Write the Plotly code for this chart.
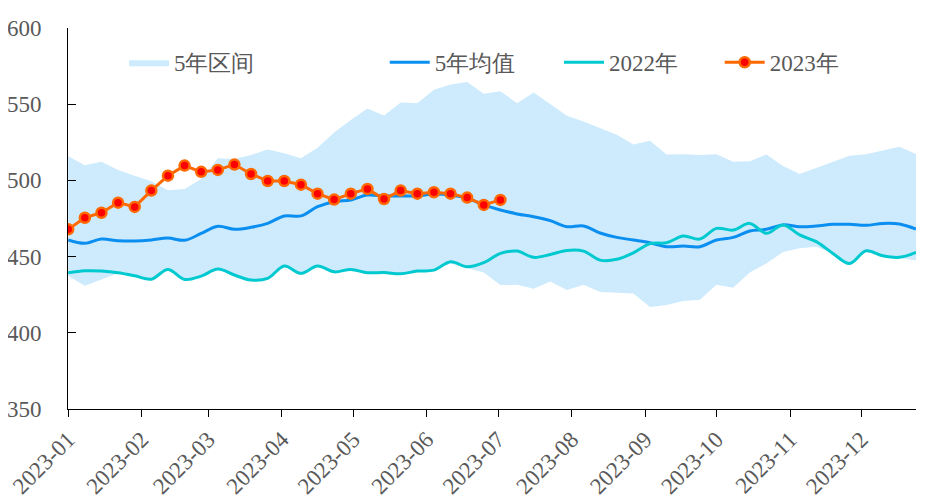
"""Weekly 2023 vs 2022 vs five-year range chart."""

import pandas as pd
import plotly.graph_objects as go

weeks = pd.date_range("2023-01-01", periods=52, freq="7D")

upper_5y = [
    515.8, 510.0, 512.3, 506.9, 503.0, 499.4, 493.6, 494.4, 501.0, 514.6,
    514.0, 516.7, 520.3, 517.8, 514.6, 521.4, 531.4, 539.7, 547.2, 542.6,
    551.1, 550.7, 559.4, 562.9, 564.5, 556.8, 558.5, 550.7, 557.7, 550.0,
    542.4, 538.6, 534.3, 529.9, 523.5, 526.0, 517.0, 517.2, 516.7, 517.2,
    512.3, 512.6, 517.0, 509.5, 504.2, 508.0, 511.9, 516.1, 517.2, 519.4,
    522.0, 517.4,
]
lower_5y = [
    437.2, 430.9, 435.0, 439.0, 437.0, 435.0, 441.2, 434.8, 437.0, 441.5,
    437.6, 434.4, 435.5, 443.5, 438.8, 443.5, 439.8, 441.3, 439.2, 439.4,
    438.5, 440.2, 440.8, 445.5, 442.5, 439.5, 431.3, 431.5, 428.9, 433.7,
    428.1, 431.5, 426.8, 426.5, 425.8, 417.0, 418.2, 420.8, 421.7, 431.5,
    429.6, 439.6, 445.5, 453.0, 455.4, 456.5, 452.0, 445.3, 453.0, 450.2,
    449.2, 447.5,
]
mean_5y = [
    460.9, 458.7, 461.5, 460.4, 460.2, 460.9, 462.2, 460.7, 465.2, 469.9,
    467.9, 469.2, 471.8, 476.7, 476.7, 482.8, 486.0, 487.2, 490.4, 489.8,
    489.8, 489.8, 491.1, 490.4, 488.3, 483.9, 480.6, 478.0, 476.2, 473.6,
    469.6, 470.1, 465.5, 462.6, 460.9, 459.1, 456.5, 456.9, 456.5, 460.9,
    462.6, 466.8, 467.9, 470.8, 469.6, 470.1, 471.2, 471.2, 470.5, 471.8,
    471.4, 468.1,
]
y2022 = [
    439.4, 440.7, 440.5, 439.4, 437.4, 435.2, 441.6, 435.0, 437.2, 441.8,
    437.9, 434.6, 435.7, 443.8, 439.0, 443.8, 440.0, 441.6, 439.4, 439.6,
    438.7, 440.5, 441.1, 446.6, 443.3, 446.0, 452.1, 453.6, 449.5, 451.4,
    454.0, 453.6, 447.7, 448.2, 452.5, 458.5, 459.1, 463.5, 461.5, 468.5,
    467.4, 471.8, 465.3, 470.8, 464.2, 459.8, 452.1, 445.5, 453.8, 450.5,
    449.5, 452.8,
]
y2023 = [
    467.9, 475.5, 478.8, 485.4, 482.6, 493.3, 503.1, 509.7, 505.6, 506.9,
    510.4, 504.2, 499.6, 499.6, 497.2, 491.3, 487.4, 491.3, 494.4, 487.8,
    493.3, 491.3, 492.2, 491.3, 488.7, 483.9, 487.2,
]

FONT = "Times New Roman, Liberation Serif, DejaVu Serif, serif"
GREY = "#595959"
LEG_Y = 0.910


def legend_box(x):
    return dict(
        orientation="h", x=x, y=LEG_Y, xanchor="left", yanchor="middle",
        font=dict(family=FONT, size=23, color=GREY),
        bgcolor="rgba(0,0,0,0)", itemwidth=40,
    )


fig = go.Figure()

# five-year band: invisible lower edge, then upper filled down to it
fig.add_trace(go.Scatter(
    x=weeks, y=lower_5y, mode="lines", line=dict(width=0),
    showlegend=False, hoverinfo="skip",
))
fig.add_trace(go.Scatter(
    x=weeks, y=upper_5y, mode="lines", line=dict(width=0),
    fill="tonexty", fillcolor="#cdebfd", name="5年区间",
))
fig.add_trace(go.Scatter(
    x=weeks, y=mean_5y, mode="lines", name="5年均值",
    line=dict(color="#0a8ef0", width=3, shape="spline"), legend="legend2",
))
fig.add_trace(go.Scatter(
    x=weeks, y=y2022, mode="lines", name="2022年",
    line=dict(color="#00c9cf", width=3, shape="spline"), legend="legend3",
))
fig.add_trace(go.Scatter(
    x=weeks[:len(y2023)], y=y2023, mode="lines+markers", name="2023年",
    line=dict(color="#ff6a00", width=3),
    marker=dict(color="#ff0000", size=10, line=dict(color="#ff6a00", width=2.5)),
    legend="legend4",
))

# page body adds an 8px offset, so margins are shifted to compensate
fig.update_layout(
    width=946,
    height=500,
    margin=dict(l=60, r=38, t=20, b=99),
    paper_bgcolor="white",
    plot_bgcolor="white",
    font=dict(family=FONT, size=23, color=GREY),
    legend=legend_box(0.066),
    legend2=legend_box(0.3735),
    legend3=legend_box(0.579),
    legend4=legend_box(0.7685),
)
fig.update_xaxes(
    type="date",
    range=[weeks[0] - pd.Timedelta(hours=2), weeks[-1]],
    dtick="M1",
    tick0="2023-01-01",
    tickformat="%Y-%m",
    tickangle=-45,
    ticks="outside",
    ticklen=7,
    tickcolor="black",
    showline=True,
    linecolor="black",
    linewidth=1,
    showgrid=False,
    zeroline=False,
    automargin=False,
    ticklabeloverflow="allow",
    tickfont=dict(family=FONT, size=23, color=GREY),
)
fig.update_yaxes(
    range=[350, 600],
    dtick=50,
    ticks="inside",
    ticklen=8,
    tickcolor="black",
    showline=True,
    linecolor="black",
    linewidth=1,
    showgrid=False,
    zeroline=False,
    automargin=False,
    ticklabeloverflow="allow",
    ticklabelstandoff=21,
    tickfont=dict(family=FONT, size=23, color=GREY),
)

fig.write_html("out.html")
